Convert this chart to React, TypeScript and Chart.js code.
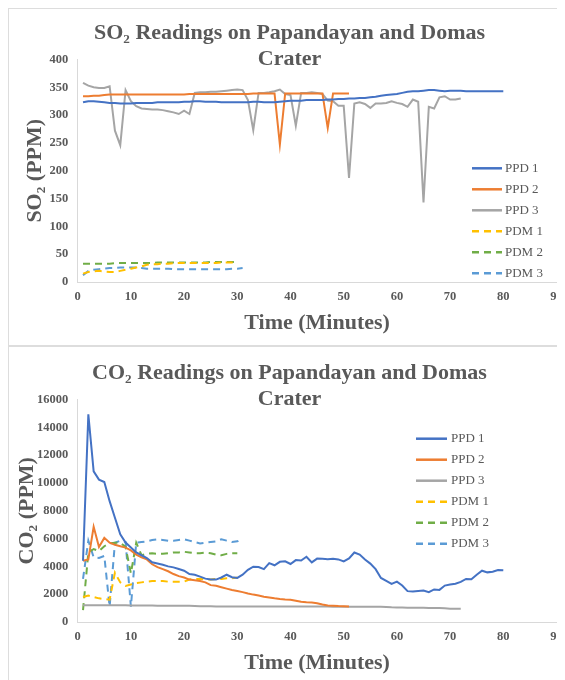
import React, { useEffect, useRef } from 'react';
import { Chart, registerables } from 'chart.js';

Chart.register(...registerables);

// Time axis (minutes)
const minutes = [
  1, 2, 3, 4, 5, 6, 7, 8, 9, 10, 11, 12, 13, 14, 15, 16, 17, 18, 19, 20,
  21, 22, 23, 24, 25, 26, 27, 28, 29, 30, 31, 32, 33, 34, 35, 36, 37, 38, 39, 40,
  41, 42, 43, 44, 45, 46, 47, 48, 49, 50, 51, 52, 53, 54, 55, 56, 57, 58, 59, 60,
  61, 62, 63, 64, 65, 66, 67, 68, 69, 70, 71, 72, 73, 74, 75, 76, 77, 78, 79, 80,
];

const seriesLabels = ['PPD 1', 'PPD 2', 'PPD 3', 'PDM 1', 'PDM 2', 'PDM 3'];
const seriesColors = ['#4472C4', '#ED7D31', '#A5A5A5', '#FFC000', '#70AD47', '#5B9BD5'];
const seriesDashed = [false, false, false, true, true, true];

// SO2 (PPM)
const so2Ppd1 = [
  323, 325, 325, 324, 323, 322, 322, 321, 321, 321,
  322, 322, 322, 322, 323, 323, 323, 323, 323, 324,
  324, 325, 325, 324, 324, 324, 323, 323, 323, 323,
  323, 323, 324, 324, 323, 323, 323, 324, 325, 326,
  326, 326, 327, 327, 327, 327, 328, 328, 329, 329,
  330, 330, 331, 331, 332, 333, 335, 336, 337, 338,
  340, 342, 343, 343, 344, 345, 345, 344, 343, 344,
  344, 344, 343, 343, 343, 343, 343, 343, 343, 343,
];
const so2Ppd2 = [
  334, 334, 335, 335, 336, 337, 337, 337, 337, 337,
  337, 337, 337, 337, 337, 337, 337, 337, 337, 337,
  338, 338, 338, 338, 338, 338, 338, 338, 338, 338,
  338, 338, 339, 339, 339, 339, 339, 247, 339, 339,
  339, 339, 339, 339, 339, 339, 277, 339, 339, 339,
  339,
];
const so2Ppd3 = [
  358, 353, 350, 349, 349, 352, 272, 246, 345, 325,
  316, 312, 311, 310, 310, 309, 307, 305, 302, 308,
  302, 340, 341, 341, 342, 342, 343, 344, 345, 346,
  345, 327, 273, 340, 340, 341, 343, 346, 338, 336,
  281, 340, 340, 341, 340, 338, 326, 325, 317, 317,
  187, 321, 323, 320, 313, 321, 321, 322, 325, 322,
  320, 315, 328, 324, 143, 315, 312, 332, 334, 328,
  328, 330,
];
const so2Pdm1 = [
  15, 18, 19, 20, 19, 18, 18, 20, 22, 24,
  26, 28, 31, 32, 32, 33, 33, 34, 34, 34,
  34, 34, 34, 34, 34, 34, 35, 35, 35, 35,
];
const so2Pdm2 = [
  33, 33, 33, 33, 33, 33, 34, 34, 34, 34,
  34, 34, 34, 34, 35, 35, 35, 35, 35, 35,
  35, 35, 35, 35, 36, 36, 36, 36, 36, 36,
];
const so2Pdm3 = [
  12, 20, 22, 23, 24, 25, 25, 26, 26, 26,
  26, 25, 24, 24, 24, 24, 24, 23, 23, 23,
  23, 23, 23, 23, 23, 23, 23, 23, 24, 24,
  25,
];

// CO2 (PPM)
const co2Ppd1 = [
  4400, 14930, 10830, 10240, 10070, 8690, 7500, 6310, 5710, 5360,
  5000, 4800, 4600, 4300, 4210, 4120, 4000, 3930, 3810, 3690,
  3450, 3400, 3260, 3120, 3050, 3050, 3200, 3400, 3220, 3170,
  3400, 3750, 3980, 3950, 3800, 4230, 4080, 4330, 4360, 4170,
  4450, 4420, 4690, 4290, 4560, 4550, 4520, 4550, 4500, 4360,
  4570, 5000, 4850, 4500, 4200, 3800, 3170, 2950, 2740, 2900,
  2620, 2220, 2200, 2230, 2260, 2140, 2340, 2310, 2620, 2690,
  2750, 2880, 3100, 3080, 3400, 3690, 3570, 3620, 3740, 3720,
];
const co2Ppd2 = [
  4400, 4500, 6850, 5400, 6050, 5700, 5550, 5450, 5350, 5150,
  4850, 4650, 4500, 4150, 3950, 3800, 3650, 3450, 3300, 3200,
  3050, 3000, 2950, 2850, 2650, 2600, 2500, 2400, 2300, 2230,
  2150, 2050, 1970, 1900, 1820, 1760, 1700, 1650, 1620, 1600,
  1530, 1450, 1420, 1400, 1350, 1260, 1180, 1170, 1150, 1140,
  1120,
];
const co2Ppd3 = [
  1200, 1200, 1200, 1200, 1200, 1200, 1200, 1200, 1200, 1190,
  1190, 1180, 1180, 1180, 1170, 1170, 1170, 1170, 1170, 1160,
  1160, 1150, 1140, 1130, 1130, 1120, 1120, 1120, 1120, 1120,
  1120, 1120, 1110, 1110, 1110, 1110, 1110, 1110, 1110, 1110,
  1110, 1110, 1110, 1110, 1110, 1110, 1110, 1100, 1100, 1100,
  1100, 1100, 1100, 1100, 1100, 1090, 1090, 1080, 1060, 1050,
  1040, 1030, 1020, 1020, 1020, 1010, 1010, 1000, 980, 960,
  950, 950,
];
const co2Pdm1 = [
  1800, 1900, 1800, 1700, 1650, 1600, 3550, 2850, 2600, 2700,
  2800, 2850, 2900, 2950, 2950, 2950, 2900, 2900, 2900, 2900,
  3050, 3100, 3100, 3050, 3050, 3100, 3100, 3150, 3150, 3200,
];
const co2Pdm2 = [
  850, 5000, 5250, 5100, 5450, 5650, 5700, 5700, 5400, 3500,
  5700, 4800, 4900, 4950, 4900, 4900, 4950, 5000, 5000, 5050,
  5000, 4950, 4950, 5000, 4950, 4850, 4800, 4900, 4950, 4950,
];
const co2Pdm3 = [
  3100, 5850, 4650, 4600, 4750, 1100, 5700, 5850, 5750, 1100,
  5700, 5750, 5800, 5900, 5950, 5900, 5850, 5850, 5900, 5950,
  5850, 5750, 5650, 5700, 5750, 5800, 5950, 5850, 5750, 5800,
  6000,
];

const SERIF = "'Liberation Serif', 'Times New Roman', 'DejaVu Serif', serif";
const TEXT = '#595959';
const AXIS = '#D9D9D9';

function buildDatasets(values: number[][]) {
  return values.map((vals, i) => ({
    label: seriesLabels[i],
    data: vals.map((y, j) => ({ x: minutes[j], y })),
    borderColor: seriesColors[i],
    backgroundColor: seriesColors[i],
    borderWidth: 2,
    borderDash: seriesDashed[i] ? [7, 5] : [],
    pointRadius: 0,
    pointHoverRadius: 0,
    tension: 0,
    fill: false,
  }));
}

// Legend drawn inside the plot region (as in the original), from the chart's own datasets
const sideLegendPlugin = {
  id: 'sideLegend',
  afterDraw(chart: any, _args: any, opts: any) {
    const { ctx } = chart;
    chart.data.datasets.forEach((ds: any, i: number) => {
      const y = opts.y0 + i * opts.dy;
      ctx.save();
      ctx.strokeStyle = ds.borderColor;
      ctx.lineWidth = 2.5;
      ctx.setLineDash(ds.borderDash || []);
      ctx.beginPath();
      ctx.moveTo(opts.x0, y);
      ctx.lineTo(opts.x1, y);
      ctx.stroke();
      ctx.setLineDash([]);
      ctx.fillStyle = TEXT;
      ctx.font = `13px ${SERIF}`;
      ctx.textBaseline = 'middle';
      ctx.textAlign = 'left';
      ctx.fillText(ds.label, opts.tx, y);
      ctx.restore();
    });
  },
};

function makeConfig(
  titleLines: string[],
  yTitle: string,
  yMax: number,
  yStep: number,
  values: number[][],
  yTitlePad: number,
  legend: { x0: number; x1: number; tx: number; y0: number; dy: number },
): any {
  return {
    type: 'line',
    data: { datasets: buildDatasets(values) },
    options: {
      responsive: false,
      maintainAspectRatio: false,
      animation: false,
      devicePixelRatio: 1,
      events: [],
      layout: { padding: { left: 14.5, right: 14.5, top: 0, bottom: 5.5 } },
      plugins: {
        legend: { display: false },
        tooltip: { enabled: false },
        title: {
          display: true,
          text: titleLines,
          color: TEXT,
          font: { family: SERIF, size: 22, weight: 'bold', lineHeight: 1.173 },
          padding: { top: 12.3, bottom: -12.4 },
        },
        sideLegend: legend,
      },
      scales: {
        x: {
          type: 'linear',
          min: 0,
          max: 90,
          ticks: {
            stepSize: 10,
            color: TEXT,
            font: { family: SERIF, size: 12.5, weight: 'bold' },
            padding: 7.5,
            maxRotation: 0,
            callback: (v: any) => String(v),
          },
          grid: { display: false, drawTicks: false },
          border: { display: true, color: AXIS, width: 1 },
          title: {
            display: true,
            text: 'Time (Minutes)',
            color: TEXT,
            font: { family: SERIF, size: 22, weight: 'bold', lineHeight: 1.2 },
            padding: { top: 0, bottom: 0 },
          },
          afterFit: (s: any) => {
            s.height = 54.5;
          },
        },
        y: {
          type: 'linear',
          min: 0,
          max: yMax,
          ticks: {
            stepSize: yStep,
            color: TEXT,
            font: { family: SERIF, size: 12.5, weight: 'bold' },
            padding: 9.5,
            callback: (v: any) => String(v),
          },
          grid: { display: false, drawTicks: false },
          border: { display: true, color: AXIS, width: 1 },
          title: {
            display: true,
            text: yTitle,
            color: TEXT,
            font: { family: SERIF, size: 22, weight: 'bold', lineHeight: 1.2 },
            padding: { top: yTitlePad, bottom: 0 },
          },
          afterFit: (s: any) => {
            s.width = 55.2;
          },
        },
      },
    },
    plugins: [sideLegendPlugin],
  };
}

export default function App() {
  const topRef = useRef<HTMLCanvasElement | null>(null);
  const bottomRef = useRef<HTMLCanvasElement | null>(null);

  useEffect(() => {
    const top = new Chart(
      topRef.current as HTMLCanvasElement,
      makeConfig(
        ['SO\u2082 Readings on Papandayan and Domas', 'Crater'],
        'SO\u2082 (PPM)',
        400,
        50,
        [so2Ppd1, so2Ppd2, so2Ppd3, so2Pdm1, so2Pdm2, so2Pdm3],
        -0.7,
        { x0: 464, x1: 494, tx: 497, y0: 160.3, dy: 21 },
      ),
    );
    const bottom = new Chart(
      bottomRef.current as HTMLCanvasElement,
      makeConfig(
        ['CO\u2082 Readings on Papandayan and Domas', 'Crater'],
        'CO\u2082 (PPM)',
        16000,
        2000,
        [co2Ppd1, co2Ppd2, co2Ppd3, co2Pdm1, co2Pdm2, co2Pdm3],
        -8,
        { x0: 408, x1: 439, tx: 443, y0: 90.7, dy: 21 },
      ),
    );
    return () => {
      top.destroy();
      bottom.destroy();
    };
  }, []);

  return (
    <div style={{ position: 'relative', width: 557, height: 672, overflow: 'hidden', background: '#fff' }}>
      <div
        style={{
          position: 'absolute',
          left: -1,
          top: -1,
          width: 600,
          height: 700,
          borderLeft: '2px solid #DDDDDD',
          borderTop: '2px solid #DDDDDD',
        }}
      />
      <div
        style={{
          position: 'absolute',
          left: -1,
          top: 337,
          width: 600,
          height: 400,
          borderTop: '2px solid #DDDDDD',
          background: 'transparent',
        }}
      />
      <canvas
        ref={topRef}
        width={563}
        height={334}
        style={{ position: 'absolute', left: 0, top: 0, width: 563, height: 334 }}
      />
      <canvas
        ref={bottomRef}
        width={563}
        height={334}
        style={{ position: 'absolute', left: 0, top: 340, width: 563, height: 334 }}
      />
    </div>
  );
}
